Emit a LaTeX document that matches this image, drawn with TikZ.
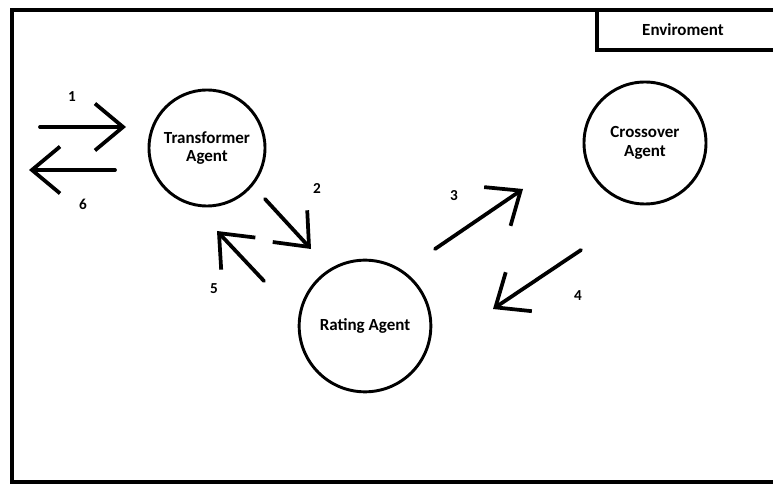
\documentclass[tikz,border=0pt]{standalone}
\usepackage{fontspec}
\setmainfont{Carlito}
\usetikzlibrary{arrows.meta}

\tikzset{
  agent/.style={draw, circle, line width=2.5pt, inner sep=0pt, align=center,
    font=\bfseries\fontsize{14.5}{16}\selectfont},
  flow/.style={line width=3.2pt, line cap=round,
    arrows={-Straight Barb[length=24pt,width=40pt,line join=miter]}},
  num/.style={font=\bfseries\fontsize{13}{15}\selectfont},
}

\begin{document}
\begin{tikzpicture}[x=0.03cm, y=-0.03cm]
    \useasboundingbox (0,0) rectangle (773,484);
    \fill[white] (0,0) rectangle (773,484);

    % frame and label box
    \draw[line width=2.6pt] (12,10) rectangle (800,482);
    \draw[line width=2.6pt] (597,10) rectangle (800,50);
    \node[font=\bfseries\fontsize{14.5}{16}\selectfont] (env) at (683,30) {Enviroment};

    % agents
    \node[agent, minimum size=3.48cm] (trans) at (207,148) {Transformer\\Agent};
    \node[agent, minimum size=3.66cm] (cross) at (645,143) {Crossover\\Agent};
    \node[agent, minimum size=3.95cm] (rate) at (365,326) {Rating Agent};

    % arrow ends
    \coordinate (s1) at (40,127);  \coordinate (t1) at (126,127);
    \coordinate (s6) at (115,170); \coordinate (t6) at (29,170);
    \coordinate (s2) at (265,199); \coordinate (t2) at (311,249);
    \coordinate (s5) at (264,281); \coordinate (t5) at (217,231);
    \coordinate (s3) at (435,249); \coordinate (t3) at (523,189);
    \coordinate (s4) at (581,250); \coordinate (t4) at (493,309);

    \draw[flow] (s1) -- (t1);
    \draw[flow] (s6) -- (t6);
    \draw[flow] (s2) -- (t2);
    \draw[flow] (s5) -- (t5);
    \draw[flow] (s3) -- (t3);
    \draw[flow] (s4) -- (t4);

    \node[num] (n1) at (72,97) {1};
    \node[num] (n2) at (317,189) {2};
    \node[num] (n3) at (454,196) {3};
    \node[num] (n4) at (578,296) {4};
    \node[num] (n5) at (214,289) {5};
    \node[num] (n6) at (83,204) {6};

\end{tikzpicture}
\end{document}
